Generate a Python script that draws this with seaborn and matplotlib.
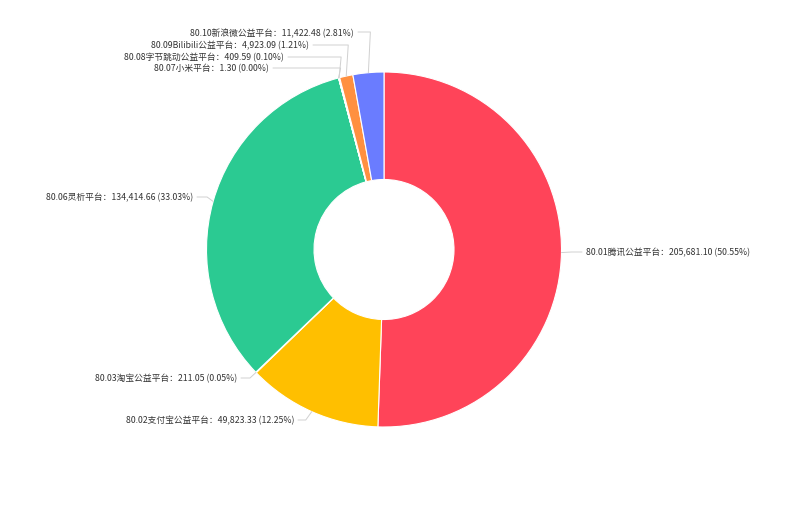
import numpy as np
import matplotlib
matplotlib.use("Agg")
import matplotlib.pyplot as plt
import seaborn as sns

names = ["80.01腾讯公益平台", "80.02支付宝公益平台", "80.03淘宝公益平台", "80.06灵析平台",
         "80.07小米平台", "80.08字节跳动公益平台", "80.09Bilibili公益平台", "80.10新浪微公益平台"]
values = [205681.10, 49823.33, 211.05, 134414.66, 1.30, 409.59, 4923.09, 11422.48]
pcts = ["50.55%", "12.25%", "0.05%", "33.03%", "0.00%", "0.10%", "1.21%", "2.81%"]
colors = ["#FF4459", "#FFBF00", "#8A63D2", "#2BCA92", "#5AB0E0", "#36B37E", "#FF9040", "#6A7CFF"]

sns.set_theme(style="white")
plt.rcParams['font.family'] = ['Noto Sans CJK SC', 'DejaVu Sans']

W, H = 800, 506
fig = plt.figure(figsize=(W / 100, H / 100), dpi=100)
ax = fig.add_axes([0, 0, 1, 1])

cx, cy, R = 384, H - 250.5, 177.5
wedges, _ = ax.pie(values, startangle=90, counterclock=False, radius=R, center=(cx, cy),
                   colors=colors,
                   wedgeprops=dict(width=R - 70, edgecolor="white", linewidth=0.8))
ax.set_xlim(0, W)
ax.set_ylim(0, H)
ax.set_aspect("auto")
ax.axis("off")

# Label layout (pixel positions from top-left): (text anchor x, text y, ha)
label_pos = [(586, 253, "left"), (294, 421, "right"), (237, 379, "right"), (193, 198, "right"),
             (269, 69, "right"), (284, 58, "right"), (309, 46, "right"), (354, 33, "right")]

total = sum(values)
cum = 0.0
for i, (n, v, p) in enumerate(zip(names, values, pcts)):
    mid = (cum + v / 2) / total
    cum += v
    ang = np.deg2rad(90 - 360 * mid)
    x1, y1 = cx + R * np.cos(ang), cy + R * np.sin(ang)
    tx, ty, ha = label_pos[i]
    ty = H - ty
    if ha == "left":
        ex = x1 + 10
        line_x = [x1, ex, tx - 4]
    else:
        ex = x1 - 6 if abs(np.cos(ang)) > 0.3 else x1 + 2
        line_x = [x1, ex, tx + 4]
    line_y = [y1, ty, ty]
    ax.plot(line_x, line_y, color="#D0D0D0", lw=0.7, zorder=1)
    ax.text(tx, ty, f"{n}：{v:,.2f} ({p})", ha=ha, va="center", fontsize=6.3, color="#333333")

fig.savefig("out.png", dpi=100, facecolor="white")
